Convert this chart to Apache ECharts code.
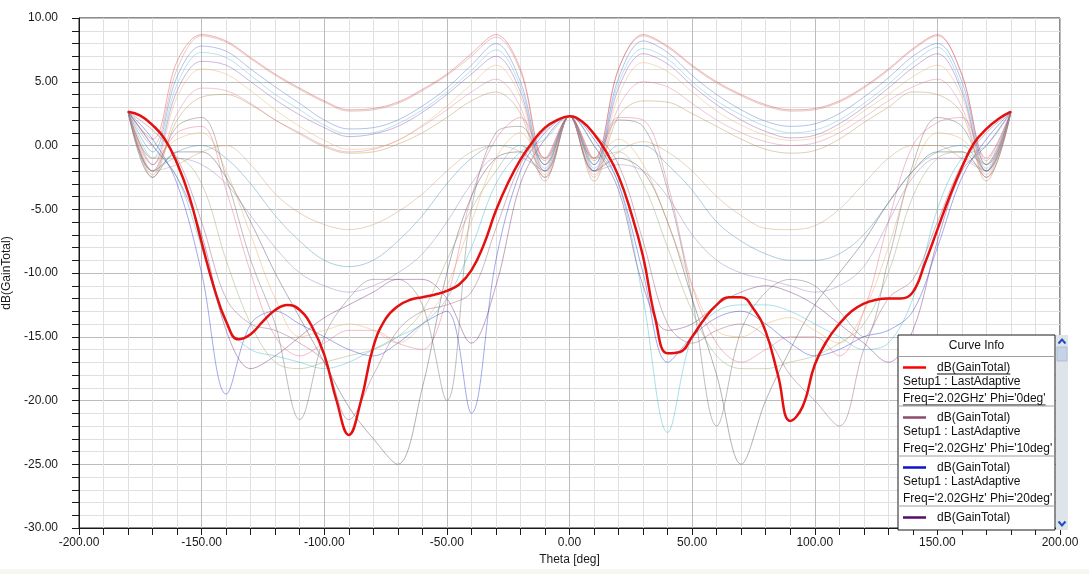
<!DOCTYPE html>
<html>
<head>
<meta charset="utf-8">
<title>dB(GainTotal) vs Theta</title>
<script src="https://cdn.jsdelivr.net/npm/echarts@6/dist/echarts.min.js"></script>
<style>
  html, body { margin: 0; padding: 0; background: #ffffff; }
  #chart { width: 1089px; height: 574px; }
</style>
</head>
<body>
<div id="chart"></div>
<script>
// ---- Data -------------------------------------------------------------
// Theta sample points (deg)
const THETA_FINE = [-180,-175,-170,-165,-160,-155,-150,-145,-140,-135,-130,-125,-120,-115,-110,-105,-100,-95,-90,-85,-80,-75,-70,-65,-60,-55,-50,-45,-40,-35,-30,-25,-20,-15,-10,-5,0,5,10,15,20,25,30,35,40,45,50,55,60,65,70,75,80,85,90,95,100,105,110,115,120,125,130,135,140,145,150,155,160,165,170,175,180];
const THETA = [-180,-170,-160,-150,-140,-130,-120,-110,-100,-90,-80,-70,-60,-50,-40,-30,-20,-10,0,10,20,30,40,50,60,70,80,90,100,110,120,130,140,150,160,170,180];

// dB(GainTotal), Phi = 0deg (sampled every 5 deg)
const GAIN_PHI0 = [2.65,2.35,1.6,0.5,-1.4,-4.0,-7.6,-11.1,-13.8,-15.2,-14.8,-13.8,-12.9,-12.5,-12.9,-14.2,-16.4,-20.0,-22.7,-20.0,-15.8,-13.6,-12.6,-12.1,-11.9,-11.7,-11.4,-10.9,-9.8,-7.8,-5.1,-2.9,-1.1,0.3,1.4,2.0,2.3,1.9,0.9,-0.5,-2.4,-5.2,-8.7,-13.6,-16.3,-16.2,-15.0,-13.6,-12.5,-11.9,-11.9,-12.8,-14.6,-18.0,-21.6,-20.5,-17.2,-15.3,-14.0,-13.0,-12.4,-12.1,-12.0,-12.0,-11.5,-9.2,-6.6,-4.0,-1.7,0.2,1.3,2.1,2.65];

// dB(GainTotal) for the other Phi cuts (sampled every 10 deg)
const GAIN_PHI10  = [2.65,1.2,-1.0,-6.0,-12.0,-14.0,-14.5,-15.5,-17.0,-21.5,-18.0,-14.5,-13.0,-12.5,-11.5,-6.5,-1.5,1.2,2.3,1.0,-1.5,-7.5,-14.0,-15.5,-14.5,-14.0,-15.0,-18.0,-20.0,-22.0,-16.0,-12.0,-10.5,-6.0,-1.5,1.0,2.65];
const GAIN_PHI20  = [2.65,0.5,-3.0,-10.0,-19.5,-14.0,-13.0,-14.0,-15.0,-16.0,-16.5,-15.5,-14.0,-13.0,-21.0,-9.0,-2.0,1.0,2.3,0.5,-3.0,-10.0,-17.0,-15.0,-13.5,-13.0,-14.0,-15.5,-16.5,-16.0,-15.0,-14.5,-13.0,-8.0,-2.5,0.5,2.65];
const GAIN_PHI30  = [2.65,0.0,-2.5,-7.0,-14.5,-17.5,-16.5,-15.0,-13.5,-12.5,-11.5,-10.5,-10.5,-12.0,-15.5,-11.0,-3.0,0.5,2.3,0.0,-3.5,-11.0,-14.5,-14.0,-12.5,-11.5,-11.0,-11.5,-12.5,-14.0,-15.5,-17.0,-14.5,-7.5,-2.0,0.0,2.65];
const GAIN_PHI40  = [2.65,-2.0,1.5,2.2,-2.5,-9.0,-14.0,-21.5,-15.0,-12.0,-10.5,-10.5,-12.5,-20.0,-5.0,1.0,1.5,-1.5,2.3,-1.5,2.0,1.5,-3.5,-12.0,-22.0,-14.5,-11.5,-10.5,-11.0,-13.0,-15.0,-9.0,-1.5,2.2,1.5,-2.0,2.65];
const GAIN_PHI50  = [2.65,-1.5,1.0,1.5,-3.5,-10.0,-15.0,-16.5,-15.5,-14.5,-14.5,-15.5,-16.0,-12.0,-4.0,0.5,2.2,-1.0,2.3,-1.0,2.2,2.0,-3.0,-11.0,-15.5,-17.0,-16.0,-15.0,-15.0,-16.5,-13.0,-6.0,0.0,1.8,2.2,-1.5,2.65];
const GAIN_PHI60  = [2.65,0.0,-2.5,-8.0,-14.0,-16.0,-16.5,-17.0,-17.5,-17.0,-16.0,-15.0,-14.0,-12.0,-8.0,-3.0,-0.5,0.5,2.3,0.0,-3.0,-12.0,-22.5,-15.0,-13.0,-12.5,-12.5,-13.0,-14.0,-15.0,-16.0,-15.5,-12.0,-5.0,-1.0,0.0,2.65];
const GAIN_PHI70  = [2.65,-2.5,-0.5,-0.5,-2.5,-6.0,-10.0,-13.5,-17.0,-20.5,-23.0,-25.0,-19.0,-10.0,-4.0,-1.0,-0.5,-2.5,2.3,-2.0,-1.0,-2.0,-6.0,-12.0,-18.0,-25.0,-20.0,-16.0,-12.5,-10.0,-7.5,-4.5,-2.0,-0.5,-0.5,-2.5,2.65];
const GAIN_PHI80  = [2.65,-2.0,-1.5,-0.5,0.0,-1.5,-3.8,-5.3,-6.2,-6.6,-6.2,-5.2,-3.8,-2.0,-0.5,0.0,-0.5,-2.0,2.3,-2.0,-0.5,0.3,-0.5,-2.0,-4.0,-5.5,-6.5,-6.6,-6.3,-5.0,-3.0,-1.0,0.0,0.0,-1.0,-2.0,2.65];
const GAIN_PHI90  = [2.65,-2.0,-1.0,-1.5,-3.0,-5.5,-8.0,-10.0,-11.0,-11.5,-11.0,-10.0,-8.5,-6.0,-3.0,-1.0,-1.0,-2.0,2.3,-2.0,-1.5,-2.0,-4.0,-7.0,-9.0,-10.0,-10.5,-11.0,-11.5,-11.0,-9.5,-6.0,-2.5,-1.0,-1.0,-2.0,2.65];
const GAIN_PHI100 = [2.65,-1.0,0.5,1.0,-2.0,-7.0,-12.0,-15.0,-14.5,-14.0,-14.5,-15.5,-14.0,-11.0,-6.0,-1.0,1.0,-1.5,2.3,-1.0,0.5,-1.5,-6.0,-11.0,-14.5,-15.0,-14.0,-13.5,-14.5,-15.5,-13.0,-8.0,-2.0,1.0,0.5,-1.5,2.65];
const GAIN_PHI110 = [2.65,-1.0,-1.0,-3.0,-9.0,-14.0,-17.0,-17.5,-17.0,-16.5,-16.0,-15.0,-13.0,-9.0,-5.0,-2.0,0.0,-1.0,2.3,-1.0,-0.5,-3.0,-8.0,-13.0,-16.5,-17.5,-17.5,-17.0,-16.5,-15.5,-14.0,-10.0,-4.0,-1.0,-0.5,-1.5,2.65];
const GAIN_PHI120 = [2.65,-2.0,-0.5,0.0,-1.0,-3.0,-5.5,-7.5,-9.0,-9.5,-9.0,-7.5,-5.5,-3.0,-1.0,0.0,0.0,-2.0,2.3,-2.0,0.0,0.0,-1.5,-3.5,-6.0,-7.5,-8.5,-9.0,-9.0,-8.5,-7.0,-4.5,-2.0,-0.5,0.0,-2.0,2.65];
const GAIN_PHI130 = [2.65,-2.5,2.0,3.8,4.0,3.2,2.0,0.9,-0.1,-0.6,-0.5,0.1,1.0,2.2,3.5,4.2,2.5,-2.8,2.3,-2.8,2.3,3.5,3.4,2.5,1.5,0.5,-0.3,-0.6,-0.4,0.5,1.8,3.0,4.2,4.0,2.5,-2.8,2.65];
const GAIN_PHI140 = [2.65,-2.3,2.5,4.5,4.3,3.3,2.0,1.0,0.0,-0.5,-0.3,0.4,1.5,2.8,4.2,5.2,3.0,-2.5,2.3,-2.5,3.0,5.0,4.6,3.3,2.0,1.0,0.3,0.0,0.2,1.0,2.2,3.5,4.6,5.2,3.0,-2.5,2.65];
const GAIN_PHI150 = [2.65,-2.0,3.8,6.0,5.6,4.3,2.8,1.5,0.4,-0.3,-0.2,0.4,1.6,3.1,4.8,6.3,3.8,-2.3,2.3,-2.3,3.9,6.5,5.8,4.2,2.7,1.6,0.8,0.4,0.6,1.4,2.7,4.0,5.4,6.3,3.8,-2.3,2.65];
const GAIN_PHI160 = [2.65,-1.5,4.3,6.6,6.3,5.0,3.6,2.4,1.4,0.7,0.9,1.5,2.6,4.0,5.6,7.0,4.2,-2.0,2.3,-2.0,4.5,7.2,6.4,4.7,3.2,2.0,1.1,0.6,0.8,1.7,3.0,4.5,6.1,7.2,4.2,-2.0,2.65];
const GAIN_PHI170 = [2.65,-1.0,4.8,7.3,6.9,5.5,4.0,2.8,1.6,0.9,1.0,1.7,2.8,4.2,5.9,7.5,4.6,-1.8,2.3,-1.8,4.9,7.6,6.8,5.0,3.5,2.4,1.5,1.0,1.2,2.0,3.3,4.8,6.5,7.7,4.5,-1.8,2.65];
const GAIN_PHI180 = [2.65,-0.5,5.4,7.8,7.4,6.0,4.6,3.3,2.0,1.3,1.4,2.0,3.1,4.5,6.3,8.0,5.0,-1.5,2.3,-1.5,5.3,8.2,7.3,5.5,4.0,2.8,1.9,1.5,1.7,2.5,3.8,5.3,7.0,8.0,5.0,-1.5,2.65];
const GAIN_PHI190 = [2.65,0.0,6.0,8.6,8.1,6.8,5.5,4.4,3.4,2.7,2.8,3.3,4.3,5.5,7.0,8.5,5.8,-1.2,2.3,-1.2,6.0,8.6,7.7,6.2,4.9,3.9,3.1,2.7,2.8,3.4,4.5,5.9,7.5,8.6,5.6,-1.2,2.65];
const GAIN_PHI200 = [2.65,0.5,6.6,8.7,8.2,6.9,5.6,4.5,3.5,2.8,2.9,3.4,4.4,5.6,7.2,8.7,6.0,-1.0,2.3,-1.0,6.0,8.7,7.8,6.3,5.0,4.0,3.2,2.8,2.9,3.5,4.6,6.0,7.6,8.7,5.5,-1.0,2.65];

const PHI_LABELS = ['10deg','20deg','30deg','40deg','50deg','60deg','70deg','80deg','90deg','100deg','110deg','120deg','130deg','140deg','150deg','160deg','170deg','180deg','190deg','200deg'];
const PHI_GAINS = [GAIN_PHI10,GAIN_PHI20,GAIN_PHI30,GAIN_PHI40,GAIN_PHI50,GAIN_PHI60,GAIN_PHI70,GAIN_PHI80,GAIN_PHI90,GAIN_PHI100,GAIN_PHI110,GAIN_PHI120,GAIN_PHI130,GAIN_PHI140,GAIN_PHI150,GAIN_PHI160,GAIN_PHI170,GAIN_PHI180,GAIN_PHI190,GAIN_PHI200];

const X_TICKS = [-200, -150, -100, -50, 0, 50, 100, 150, 200];
const Y_TICKS = [-30, -25, -20, -15, -10, -5, 0, 5, 10];

// ---- Styles -----------------------------------------------------------
const TRACE_COLORS = ['#8c4a6a','#1a2ad0','#6a1b6a','#606060','#e05a80','#28b4c8','#3e3e50','#c89060','#9070b8','#e8a050',
                      '#8aa060','#3a88a8','#b08848','#e07090','#e8a860','#8848a8','#50b8d8','#4868c8','#b88060','#e03450'];
const FONT = '"Liberation Sans", Arial, sans-serif';
const LEGEND_TRACE_COLORS = ['#ff0000', '#8c4a6a', '#1010d0', '#5a0a6a'];

const chart = echarts.init(document.getElementById('chart'), null, { renderer: 'canvas' });

function pairs(xs, ys) { return xs.map((x, i) => [x, ys[i]]); }

const series = PHI_GAINS.map((g, i) => ({
  name: "Phi='" + PHI_LABELS[i] + "'",
  type: 'line',
  data: pairs(THETA, g),
  showSymbol: false,
  smooth: 0.35,
  lineStyle: { width: 1, color: TRACE_COLORS[i], opacity: 0.4 },
  emphasis: { disabled: true },
  silent: true,
  z: 2
}));
series.push({
  name: "Phi='0deg'",
  type: 'line',
  data: pairs(THETA_FINE, GAIN_PHI0),
  showSymbol: false,
  smooth: 0.45,
  lineStyle: { width: 2.5, color: '#e41010' },
  emphasis: { disabled: true },
  silent: true,
  z: 5
});

// ---- Curve Info box ----------------------------------------------------
const measureCtx = document.createElement('canvas').getContext('2d');
function textWidth(str, size) {
  measureCtx.font = size + 'px ' + FONT;
  return measureCtx.measureText(str).width;
}

const BOX_Z = 100;
const BOX = { x: 898, y: 335, w: 157, h: 195 };
const LEGEND_ENTRIES = ["0deg", "10deg", "20deg", "30deg"];
const legendChildren = [];
legendChildren.push({ type: 'rect', z: BOX_Z, shape: { x: BOX.x, y: BOX.y, width: BOX.w, height: BOX.h },
  style: { fill: '#ffffff', stroke: '#1a1a1a', lineWidth: 1 } });
legendChildren.push({ type: 'text', z: BOX_Z + 1, x: BOX.x + BOX.w / 2, y: 346,
  style: { text: 'Curve Info', font: '12px ' + FONT, fill: '#111', align: 'center', verticalAlign: 'middle' } });
legendChildren.push({ type: 'line', z: BOX_Z + 1, shape: { x1: BOX.x, y1: 356.5, x2: BOX.x + BOX.w, y2: 356.5 },
  style: { stroke: '#a0a0a0', lineWidth: 1 } });

LEGEND_ENTRIES.forEach((phi, i) => {
  const by = 367.5 + i * 50;
  const lines = [
    { t: 'dB(GainTotal)', x: 937, y: by },
    { t: 'Setup1 : LastAdaptive', x: 903, y: by + 14.5 },
    { t: "Freq='2.02GHz' Phi='" + phi + "'", x: 903, y: by + 31 }
  ];
  legendChildren.push({ type: 'line', z: BOX_Z + 1, shape: { x1: 903, y1: by, x2: 926, y2: by },
    style: { stroke: LEGEND_TRACE_COLORS[i], lineWidth: 2.5 } });
  const shown = i < 3 ? lines : lines.slice(0, 1);
  shown.forEach(l => {
    legendChildren.push({ type: 'text', z: BOX_Z + 1, x: l.x, y: l.y,
      style: { text: l.t, font: '12px ' + FONT, fill: '#111', align: 'left', verticalAlign: 'middle' } });
    if (i === 0) {
      const w = textWidth(l.t, 12);
      legendChildren.push({ type: 'line', z: BOX_Z + 1, shape: { x1: l.x, y1: l.y + 6.5, x2: l.x + w, y2: l.y + 6.5 },
        style: { stroke: '#111', lineWidth: 1 } });
    }
  });
  if (i < 3) {
    legendChildren.push({ type: 'line', z: BOX_Z + 1, shape: { x1: BOX.x, y1: by + 38.5, x2: BOX.x + BOX.w, y2: by + 38.5 },
      style: { stroke: '#a0a0a0', lineWidth: 1 } });
  }
});

// scroll bar
const SB = { x: 1056, y: 335, w: 12, h: 195 };
legendChildren.push({ type: 'rect', z: BOX_Z, shape: { x: SB.x, y: SB.y, width: SB.w, height: SB.h },
  style: { fill: '#dfe4ea', stroke: null } });
legendChildren.push({ type: 'rect', z: BOX_Z + 1, shape: { x: SB.x + 1, y: 347, width: SB.w - 2, height: 14 },
  style: { fill: '#c6d2e6', stroke: '#b0bed6', lineWidth: 1 } });
legendChildren.push({ type: 'polyline', z: BOX_Z + 1, shape: { points: [[1058.5, 343.5], [1062, 339.5], [1065.5, 343.5]] },
  style: { stroke: '#1f4fc0', lineWidth: 2, fill: null } });
legendChildren.push({ type: 'polyline', z: BOX_Z + 1, shape: { points: [[1058.5, 521.5], [1062, 525.5], [1065.5, 521.5]] },
  style: { stroke: '#1f4fc0', lineWidth: 2, fill: null } });

const option = {
  backgroundColor: '#ffffff',
  animation: false,
  textStyle: { fontFamily: FONT },
  grid: {
    left: 79, right: 29, top: 18, bottom: 46,
    show: true, borderColor: '#1a1a1a', borderWidth: 1, backgroundColor: '#ffffff',
    containLabel: false, outerBoundsMode: 'none'
  },
  xAxis: {
    type: 'value',
    min: X_TICKS[0], max: X_TICKS[X_TICKS.length - 1], interval: 50,
    name: 'Theta [deg]', nameLocation: 'middle', nameGap: 23,
    nameTextStyle: { fontSize: 12, color: '#1a1a1a', fontFamily: FONT },
    axisLine: { onZero: false, lineStyle: { color: '#1a1a1a', width: 1 } },
    axisTick: { show: true, length: 7, lineStyle: { color: '#1a1a1a' } },
    minorTick: { show: true, splitNumber: 5, length: 7, lineStyle: { color: '#1a1a1a' } },
    axisLabel: { fontSize: 12, color: '#1a1a1a', margin: 9, fontFamily: FONT,
      formatter: v => v.toFixed(2) },
    splitLine: { show: true, lineStyle: { color: '#bcbcbc', width: 1 } },
    minorSplitLine: { show: true, lineStyle: { color: '#e0e0e0', width: 1 } }
  },
  yAxis: {
    type: 'value',
    min: Y_TICKS[0], max: Y_TICKS[Y_TICKS.length - 1], interval: 5,
    name: 'dB(GainTotal)', nameLocation: 'middle', nameGap: 57, nameRotate: 90,
    nameTextStyle: { fontSize: 12, color: '#1a1a1a', fontFamily: FONT },
    axisLine: { show: true, onZero: false, lineStyle: { color: '#1a1a1a', width: 1 } },
    axisTick: { show: true, length: 7, lineStyle: { color: '#1a1a1a' } },
    minorTick: { show: true, splitNumber: 5, length: 7, lineStyle: { color: '#1a1a1a' } },
    axisLabel: { fontSize: 12, color: '#1a1a1a', margin: 21, fontFamily: FONT,
      formatter: v => v.toFixed(2) },
    splitLine: { show: true, lineStyle: { color: '#bcbcbc', width: 1 } },
    minorSplitLine: { show: true, lineStyle: { color: '#e0e0e0', width: 1 } }
  },
  series: series,
  graphic: [
    { type: 'rect', shape: { x: 0, y: 569, width: 1089, height: 5 },
      style: { fill: '#f6f6f2', stroke: null }, z: 0, silent: true },
    { type: 'group', z: BOX_Z, children: legendChildren, silent: true }
  ]
};

chart.setOption(option);
</script>
</body>
</html>
